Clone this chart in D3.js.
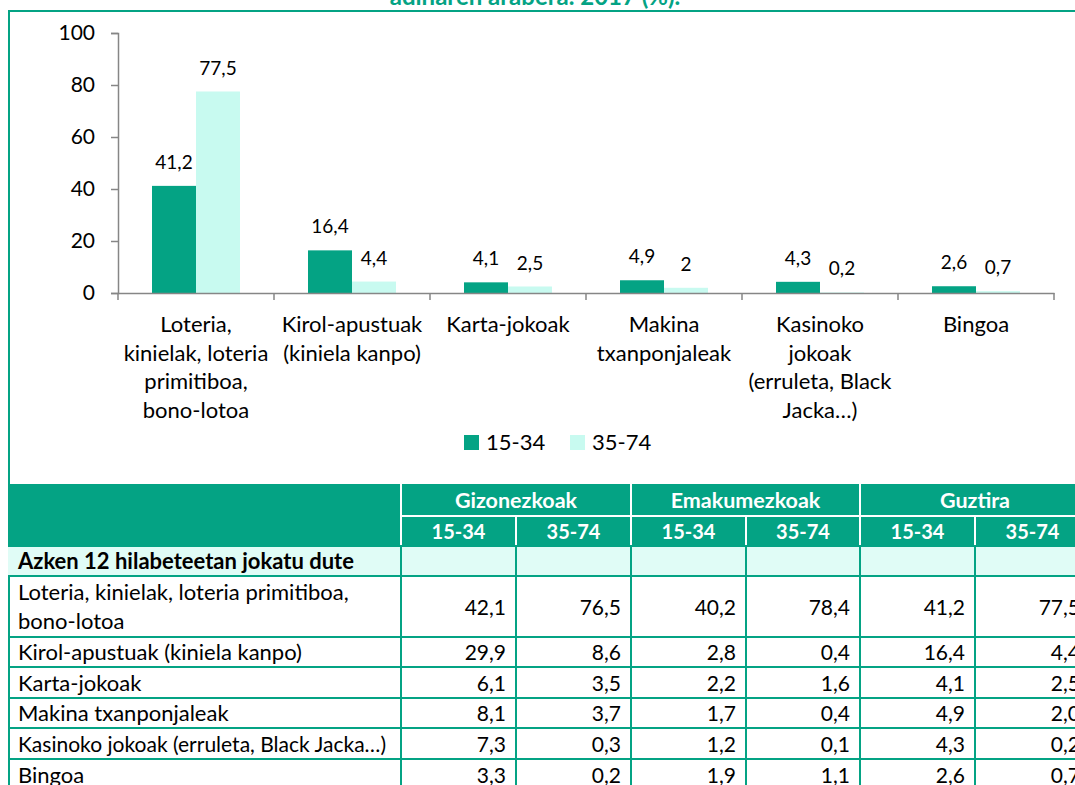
<!DOCTYPE html>
<html>
<head>
<meta charset="utf-8">
<title>Jokoak adinaren arabera 2017</title>
<style>
  body { margin: 0; background: #fff; }
  svg { display: block; font-family: Lato, "Open Sans", sans-serif; }
</style>
</head>
<body>
<svg id="chart" width="1075" height="785"></svg>
<script src="https://d3js.org/d3.v7.min.js"></script>
<script>
// chart data
var categories = ["Loteria", "Kirol-apustuak", "Karta-jokoak", "Makina", "Kasinoko", "Bingoa"];
var categoryLines = [
  ["Loteria,", "kinielak, loteria", "primitiboa,", "bono-lotoa"],
  ["Kirol-apustuak", "(kiniela kanpo)"],
  ["Karta-jokoak"],
  ["Makina", "txanponjaleak"],
  ["Kasinoko", "jokoak", "(erruleta, Black", "Jacka…)"],
  ["Bingoa"]
];
var series = ["15-34", "35-74"];
var young = [41.2, 16.4, 4.1, 4.9, 4.3, 2.6];
var old = [77.5, 4.4, 2.5, 2, 0.2, 0.7];
var yTicks = [0, 20, 40, 60, 80, 100];

// table data
var tableGroups = ["Gizonezkoak", "Emakumezkoak", "Guztira"];
var sectionTitle = "Azken 12 hilabeteetan jokatu dute";
var rowLabels = [
  ["Loteria, kinielak, loteria primitiboa,", "bono-lotoa"],
  ["Kirol-apustuak (kiniela kanpo)"],
  ["Karta-jokoak"],
  ["Makina txanponjaleak"],
  ["Kasinoko jokoak (erruleta, Black Jacka…)"],
  ["Bingoa"]
];
var gizon1534 = [42.1, 29.9, 6.1, 8.1, 7.3, 3.3];
var gizon3574 = [76.5, 8.6, 3.5, 3.7, 0.3, 0.2];
var emak1534 = [40.2, 2.8, 2.2, 1.7, 1.2, 1.9];
var emak3574 = [78.4, 0.4, 1.6, 0.4, 0.1, 1.1];
var guztira1534 = young;
var guztira3574 = old;

var dark = "#04a384", light = "#c8faf0", pale = "#e0fcf6";

var svg = d3.select("#chart");

// frame + cut title
svg.append("line").attr("x1", 8).attr("x2", 1075).attr("y1", 11).attr("y2", 11)
  .attr("stroke", dark).attr("stroke-width", 2);
svg.append("line").attr("x1", 9).attr("x2", 9).attr("y1", 10).attr("y2", 785)
  .attr("stroke", dark).attr("stroke-width", 2);
svg.append("text").attr("x", 535).attr("y", 5).attr("text-anchor", "middle")
  .attr("font-size", 24).attr("font-weight", "bold").attr("fill", dark)
  .text("adinaren arabera. 2017 (%).");

// scales
var x0 = d3.scaleBand().domain(categories).range([118, 1054]);
var x1 = d3.scaleBand().domain(series).range([0, x0.bandwidth()]).paddingOuter(0.773);
var y = d3.scaleLinear().domain([0, 100]).range([293, 33]);
var color = d3.scaleOrdinal().domain(series).range([dark, light]);

var yAxis = svg.append("g").attr("transform", "translate(118,0)")
  .call(d3.axisLeft(y).tickValues(yTicks).tickSize(7).tickPadding(16).tickFormat(d3.format("d")));
yAxis.select(".domain").attr("stroke", "#868686").attr("stroke-width", 1.5);
yAxis.selectAll(".tick line").attr("stroke", "#868686").attr("stroke-width", 1.5);
yAxis.selectAll("text").attr("font-size", 21).attr("font-family", "Lato").attr("fill", "#000");

// bars
var groups = svg.selectAll("g.cat").data(categories).enter().append("g")
  .attr("class", "cat")
  .attr("transform", function(d) { return "translate(" + x0(d) + ",0)"; });

groups.selectAll("rect").data(function(d, i) {
    return [{s: "15-34", v: young[i]}, {s: "35-74", v: old[i]}];
  }).enter().append("rect")
  .attr("x", function(d) { return x1(d.s); })
  .attr("y", function(d) { return y(d.v); })
  .attr("width", x1.bandwidth())
  .attr("height", function(d) { return y(0) - y(d.v); })
  .attr("fill", function(d) { return color(d.s); });

groups.selectAll("text.val").data(function(d, i) {
    return [{s: "15-34", v: young[i]}, {s: "35-74", v: old[i]}];
  }).enter().append("text")
  .attr("class", "val")
  .attr("x", function(d) { return x1(d.s) + x1.bandwidth() / 2; })
  .attr("y", function(d) { return y(d.v) - 17; })
  .attr("text-anchor", "middle")
  .attr("font-size", 19)
  .text(function(d) { return String(d.v).replace(".", ","); });

// x axis
var xAxis = svg.append("g").attr("transform", "translate(0,293)")
  .call(d3.axisBottom(x0).tickSize(0).tickFormat(""));
xAxis.select(".domain").attr("stroke", "#868686").attr("stroke-width", 1.5);
var edges = categories.map(function(c) { return x0(c); }).concat([x0.range()[1]]);
svg.selectAll("line.xtick").data(edges).enter().append("line")
  .attr("x1", function(d) { return d; }).attr("x2", function(d) { return d; })
  .attr("y1", 293).attr("y2", 300)
  .attr("stroke", "#868686").attr("stroke-width", 1.5);

svg.selectAll("text.xlab").data(categories).enter().append("text")
  .attr("class", "xlab")
  .attr("text-anchor", "middle")
  .attr("font-size", 22)
  .each(function(d, i) {
    var t = d3.select(this);
    categoryLines[i].forEach(function(line, k) {
      t.append("tspan").attr("x", x0(d) + x0.bandwidth() / 2).attr("y", 332 + k * 28.5).text(line);
    });
  });

// legend
var legend = svg.selectAll("g.leg").data(series).enter().append("g")
  .attr("class", "leg")
  .attr("transform", function(d, i) { return "translate(" + (464 + i * 106) + ",435)"; });
legend.append("rect").attr("width", 15).attr("height", 15).attr("fill", function(d) { return color(d); });
legend.append("text").attr("x", 22).attr("y", 15).attr("font-size", 22).text(function(d) { return d; });

// table
var colX = [8, 401, 516, 631, 746, 860, 975, 1090];
var rowHeights = [61, 30, 31, 30, 31, 31];
var rowTop = [576];
rowHeights.forEach(function(h, i) { rowTop.push(rowTop[i] + h); });
var cols = [gizon1534, gizon3574, emak1534, emak3574, guztira1534, guztira3574];
var fmt = function(v) { return v.toFixed(1).replace(".", ","); };

svg.append("rect").attr("x", 8).attr("y", 484).attr("width", 1067).attr("height", 62).attr("fill", dark);
svg.append("rect").attr("x", 8).attr("y", 546).attr("width", 1067).attr("height", 30).attr("fill", pale);

// header white lines
svg.append("line").attr("x1", 401).attr("x2", 1075).attr("y1", 516).attr("y2", 516)
  .attr("stroke", "#fff").attr("stroke-width", 2);
colX.slice(1, 7).forEach(function(cx, i) {
  svg.append("line").attr("x1", cx).attr("x2", cx)
    .attr("y1", i % 2 === 0 ? 484 : 516).attr("y2", 546)
    .attr("stroke", "#fff").attr("stroke-width", 2);
});

svg.selectAll("text.grp").data(tableGroups).enter().append("text")
  .attr("class", "grp")
  .attr("x", function(d, i) { return (colX[1 + i * 2] + colX[3 + i * 2]) / 2; })
  .attr("y", 508).attr("text-anchor", "middle")
  .attr("font-size", 21.5).attr("font-weight", "bold").attr("fill", "#fff")
  .text(function(d) { return d; });

svg.selectAll("text.sub").data(d3.range(6)).enter().append("text")
  .attr("class", "sub")
  .attr("x", function(d) { return (colX[1 + d] + colX[2 + d]) / 2; })
  .attr("y", 539).attr("text-anchor", "middle")
  .attr("font-size", 20).attr("font-weight", "bold").attr("fill", "#fff")
  .text(function(d) { return series[d % 2]; });

svg.append("text").attr("x", 18).attr("y", 569)
  .attr("font-size", 22).attr("font-weight", "bold").text(sectionTitle);

// body grid
rowTop.forEach(function(ry) {
  svg.append("line").attr("x1", 8).attr("x2", 1075).attr("y1", ry).attr("y2", ry)
    .attr("stroke", dark).attr("stroke-width", 2);
});
svg.append("line").attr("x1", 8).attr("x2", 1075).attr("y1", 546).attr("y2", 546)
  .attr("stroke", dark).attr("stroke-width", 2);
colX.slice(1, 7).forEach(function(cx) {
  svg.append("line").attr("x1", cx).attr("x2", cx).attr("y1", 546).attr("y2", 785)
    .attr("stroke", dark).attr("stroke-width", 2);
});

rowLabels.forEach(function(lines, r) {
  var mid = rowTop[r] + rowHeights[r] / 2;
  lines.forEach(function(line, k) {
    var t = svg.append("text").attr("x", 18)
      .attr("y", mid + 8 + (k - (lines.length - 1) / 2) * 29)
      .attr("font-size", 22).text(line);
    // squeeze labels that would cross the first column line
    if (t.node().getComputedTextLength() > 370) {
      t.attr("textLength", 368).attr("lengthAdjust", "spacingAndGlyphs");
    }
  });
  cols.forEach(function(col, c) {
    svg.append("text").attr("x", colX[c + 2] - 10).attr("y", mid + 8)
      .attr("text-anchor", "end").attr("font-size", 21).text(fmt(col[r]));
  });
});
</script>
</body>
</html>
